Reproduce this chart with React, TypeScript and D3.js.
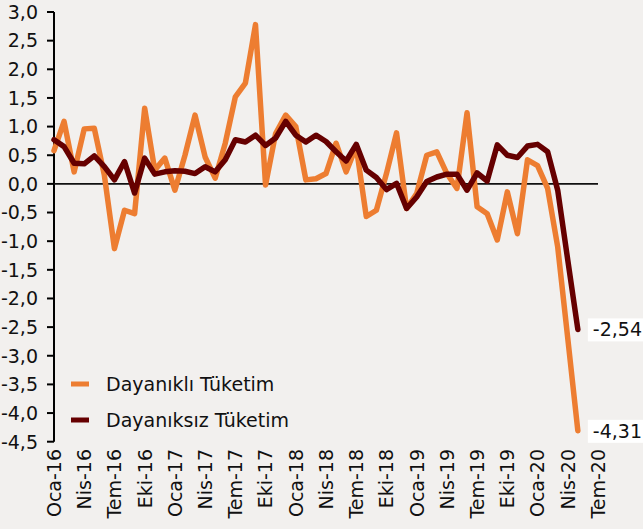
import * as d3 from "d3";

// month names used on the category axis
const monthNames = ["Oca", "Şub", "Mar", "Nis", "May", "Haz", "Tem", "Ağu", "Eyl", "Eki", "Kas", "Ara"];
const years = ["16", "17", "18", "19", "20"];

// Oca-16 .. Tem-20 (55 months), only 53 have data
const categories = years.flatMap(yr => monthNames.map(m => `${m}-${yr}`)).slice(0, 55);

const durable = [
  0.58, 1.09, 0.21, 0.96, 0.97, 0.15, -1.13, -0.46, -0.52, 1.32, 0.24, 0.45,
  -0.11, 0.5, 1.2, 0.47, 0.1, 0.71, 1.52, 1.76, 2.78, -0.02, 0.88, 1.2,
  1.0, 0.07, 0.09, 0.18, 0.71, 0.21, 0.65, -0.57, -0.46, 0.18, 0.89, -0.43,
  -0.17, 0.5, 0.56, 0.18, -0.08, 1.24, -0.4, -0.52, -0.98, -0.14, -0.87, 0.42,
  0.32, -0.08, -1.1, -2.7, -4.31
];

const nonDurable = [
  0.77, 0.65, 0.36, 0.35, 0.49, 0.3, 0.07, 0.39, -0.16, 0.45, 0.17, 0.21,
  0.23, 0.22, 0.18, 0.3, 0.21, 0.42, 0.77, 0.73, 0.85, 0.67, 0.8, 1.09,
  0.85, 0.73, 0.85, 0.74, 0.56, 0.4, 0.69, 0.24, 0.11, -0.1, 0.01, -0.43,
  -0.23, 0.04, 0.12, 0.17, 0.17, -0.11, 0.19, 0.05, 0.68, 0.5, 0.46, 0.66,
  0.69, 0.56, -0.11, -1.33, -2.54
];

const seriesNames = ["Dayanıklı Tüketim", "Dayanıksız Tüketim"];
const seriesColors = ["#ED7D31", "#660000"];
const yTicks = d3.range(-4.5, 3.01, 0.5);

export default function App() {
  const width = 643;
  const height = 529;
  const marginLeft = 54;
  const plotRight = 598;
  const plotTop = 12;
  const plotBottom = 441.7;
  const font = "'DejaVu Sans', sans-serif";

  const x = d3.scalePoint(categories, [marginLeft, plotRight]);
  const y = d3.scaleLinear([-4.5, 3], [plotBottom, plotTop]);

  const locale = d3.formatLocale({ decimal: ",", thousands: ".", grouping: [3], currency: ["", ""], minus: "-" });
  const fmt1 = locale.format(".1f");
  const fmt2 = locale.format(".2f");

  const line = d3.line<number>()
    .x((_, i) => x(categories[i])!)
    .y(d => y(d));

  const series = [durable, nonDurable];

  return (
    <svg width={width} height={height} style={{ position: "absolute", left: 0, top: 0, background: "#F2F0EE" }} fontFamily={font}>
      {/* y axis */}
      <line x1={marginLeft} x2={marginLeft} y1={plotTop} y2={plotBottom} stroke="#000" strokeWidth={2} />
      {yTicks.map(t => (
        <g key={t} transform={`translate(0,${y(t)})`}>
          <line x1={marginLeft - 7} x2={marginLeft} stroke="#000" strokeWidth={2} />
          <text x={38} dy="0.36em" textAnchor="end" fontSize={19} fill="#111">{fmt1(t)}</text>
        </g>
      ))}

      {/* zero line */}
      <line x1={marginLeft} x2={plotRight} y1={y(0)} y2={y(0)} stroke="#111" strokeWidth={1.6} />

      {/* x labels, every third month */}
      {categories.map((c, i) => i % 3 === 0 && (
        <text key={c} transform={`translate(${x(c)},449) rotate(-90)`} dy="0.36em" textAnchor="end" fontSize={19} fill="#111">{c}</text>
      ))}

      {/* lines */}
      {series.map((s, k) => (
        <path key={k} d={line(s)!} fill="none" stroke={seriesColors[k]} strokeWidth={5.5} strokeLinejoin="round" strokeLinecap="round" />
      ))}

      {/* end labels */}
      {series.map((s, k) => {
        const last = s.length - 1;
        const yy = y(s[last]);
        return (
          <g key={k} transform={`translate(${x(categories[last])! + 10},${yy})`}>
            <rect x={0} y={-11} width={56} height={23} fill="#fff" />
            <text x={5} dy="0.36em" fontSize={19} fill="#111">{fmt2(s[last])}</text>
          </g>
        );
      })}

      {/* legend */}
      {seriesNames.map((n, k) => (
        <g key={n} transform={`translate(71,${384 + k * 36})`}>
          <line x1={0} x2={18} stroke={seriesColors[k]} strokeWidth={5} />
          <text x={35} dy="0.36em" fontSize={19} fill="#111">{n}</text>
        </g>
      ))}
    </svg>
  );
}
